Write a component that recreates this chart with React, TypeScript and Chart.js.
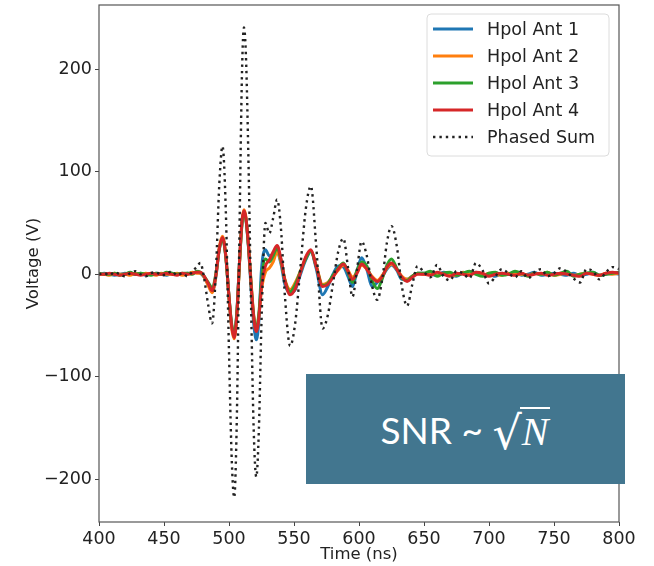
import React, { useEffect, useRef } from "react";
import { Chart, registerables } from "chart.js";
Chart.register(...registerables);

// Sample times (ns)
const timeNs = [
  400, 404, 408, 412, 416, 420, 424, 428, 432, 436, 440, 444, 448, 452, 456, 460, 464, 468, 472, 475, 478,
  481, 484, 487, 490, 492.5, 495, 497.5, 500, 502, 504,
  506, 508, 510, 511.5, 513, 515, 517, 519, 521, 523,
  525, 528, 531, 534, 537, 540, 543, 547, 551, 555,
  559, 563, 567, 572, 576, 580, 584, 588, 591.5, 595,
  598.5, 602, 606, 610, 614, 618, 621.5, 625, 629, 633,
  637, 641, 645,
  650, 655, 660, 665, 670, 675, 680, 685, 690, 695, 700, 705, 710, 715, 720, 725,
  730, 735, 740, 745, 750, 755, 760, 765, 770, 775, 780, 785, 790, 795, 800,
];

const hpolAnt1 = [
  0, 1, 0, -1, 0, 1, 0, 0, 1, -1, 0, 1, 0, -1, 1, 0, 0, 1, 1, 2, 1,
  -3, -10, -17, -2, 24, 35, 18, -22, -50, -60,
  -38, 10, 50, 60, 54, 26, -14, -48, -64, -45,
  5, 24, 18, 20, 22, 10, -10, -18, -15, 0,
  14, 22, 6, -20, -12, 0, 8, 7, -2, -12,
  3, 16, 5, -12, -8, -2, 5, 9, 4, -5,
  -5, -2, 1,
  1, 0, -1, 2, 0, -2, 1, 0, 2, -1, 0, -2, 1, 0, 1, -1,
  0, 2, -1, 0, 1, 0, -1, 1, -1, 0, 2, -1, 0, 1, 0,
];

const hpolAnt2 = [
  0, 0, -1, 1, 0, 0, -1, 1, 0, 1, 0, -1, 1, 0, 0, 1, -1, 0, 2, 1, 1,
  -3, -11, -18, -1, 26, 37, 19, -23, -52, -63,
  -41, 8, 52, 63, 56, 28, -8, -40, -55, -40,
  -15, 2, 6, 12, 22, 12, -5, -15, -8, 3,
  16, 23, 9, -10, -8, -2, 4, 9, 4, -3,
  2, 9, 5, -2, -6, -1, 6, 10, 5, -2,
  -5, -2, 1,
  0, 1, -1, 1, 0, -1, 2, 0, 1, -1, 1, 0, -1, 1, 0, 0,
  -1, 1, 0, 2, -1, 0, 1, -1, 0, 1, 0, -1, 1, 0, 1,
];

const hpolAnt3 = [
  1, 0, 0, 1, -1, 0, 2, 0, 1, 0, -1, 1, 0, 2, 1, 0, 1, 1, 0, 3, 2,
  -2, -8, -13, 1, 24, 35, 17, -22, -48, -58,
  -38, 9, 50, 61, 54, 27, -10, -41, -54, -38,
  -6, 15, 12, 18, 26, 14, -6, -17, -10, 3,
  15, 23, 8, -11, -9, -1, 6, 11, 2, -8,
  4, 12, 8, -6, -14, -4, 9, 15, 6, -4,
  -6, -2, 1,
  1, 3, -2, 1, 2, -1, 1, 3, 0, -2, 1, 2, -1, 0, 3, 1,
  -2, 1, 0, 2, -1, 1, 3, -2, 0, 1, 2, -1, 0, 1, 2,
];

const hpolAnt4 = [
  0, 0, 1, 0, -1, 0, 1, 0, -1, 0, 1, 0, 0, 1, 0, -1, 1, 0, 1, 2, 2,
  -2, -9, -16, 0, 25, 36, 18, -22, -50, -62,
  -40, 10, 52, 62, 55, 28, -10, -42, -56, -42,
  -12, 8, 14, 22, 28, 15, -6, -20, -14, 2,
  17, 24, 8, -12, -10, -3, 5, 10, 3, -5,
  1, 10, 5, -3, -7, -2, 7, 11, 5, -3,
  -7, -3, 0,
  0, -1, 2, 0, -2, 1, 0, -1, 2, 1, -2, 0, 1, 0, -1, 1,
  -1, 0, 1, -1, 0, 1, 0, -1, -2, 1, 0, -1, 1, 2, 1,
];

const phasedSum = [
  0, 1, -1, 2, 0, -2, 1, 3, 0, -2, 1, 2, -1, 0, 3, -1, 1, -2, 3, 7, 11,
  -5, -30, -48, 5, 87, 125, 64, -76, -177, -218,
  -142, 36, 197, 241, 214, 109, -32, -152, -198, -151,
  -46, 50, 40, 55, 73, 44, -21, -70, -47, 8,
  63, 86, 29, -53, -40, -9, 22, 35, 7, -22,
  5, 32, 18, -11, -25, -4, 31, 47, 28, -12,
  -31, -10, 8,
  2, -3, 9, -2, -6, 3, 1, -4, 11, 4, -9, -2, 5, 1, -3, 3,
  -4, 2, 5, -2, 1, 6, 2, -4, -8, 5, 3, -5, 2, 7, 5,
];

const seriesLabels = ["Hpol Ant 1", "Hpol Ant 2", "Hpol Ant 3", "Hpol Ant 4", "Phased Sum"];
const seriesValues = [hpolAnt1, hpolAnt2, hpolAnt3, hpolAnt4, phasedSum];
const seriesColors = ["#1f77b4", "#ff7f0e", "#2ca02c", "#d62728", "#222222"];

const xTicks = [400, 450, 500, 550, 600, 650, 700, 750, 800];
const yTicks = [-200, -100, 0, 100, 200];
const xRange = [400, 800];
const yRange = [-242, 263];

const FONT = "'DejaVu Sans', sans-serif";

const framePlugin = {
  id: "frame",
  afterDatasetsDraw(chart: any) {
    const { ctx, chartArea: a } = chart;
    ctx.save();
    ctx.strokeStyle = "#555";
    ctx.lineWidth = 1.2;
    ctx.strokeRect(a.left, a.top, a.right - a.left, a.bottom - a.top);
    ctx.restore();
  },
};

const legendPlugin = {
  id: "boxLegend",
  afterDraw(chart: any) {
    const { ctx, chartArea: a } = chart;
    const w = 182;
    const h = 142;
    const x0 = a.right - 10 - w;
    const y0 = a.top + 9;
    ctx.save();
    ctx.beginPath();
    const r = 4;
    ctx.moveTo(x0 + r, y0);
    ctx.lineTo(x0 + w - r, y0);
    ctx.quadraticCurveTo(x0 + w, y0, x0 + w, y0 + r);
    ctx.lineTo(x0 + w, y0 + h - r);
    ctx.quadraticCurveTo(x0 + w, y0 + h, x0 + w - r, y0 + h);
    ctx.lineTo(x0 + r, y0 + h);
    ctx.quadraticCurveTo(x0, y0 + h, x0, y0 + h - r);
    ctx.lineTo(x0, y0 + r);
    ctx.quadraticCurveTo(x0, y0, x0 + r, y0);
    ctx.closePath();
    ctx.fillStyle = "rgba(255,255,255,0.85)";
    ctx.fill();
    ctx.strokeStyle = "#dcdcdc";
    ctx.lineWidth = 1;
    ctx.stroke();
    chart.data.datasets.forEach((ds: any, i: number) => {
      const yy = y0 + 15 + i * 27;
      ctx.beginPath();
      ctx.strokeStyle = ds.borderColor;
      ctx.lineWidth = ds.borderWidth;
      ctx.setLineDash(ds.borderDash || []);
      ctx.moveTo(x0 + 6, yy);
      ctx.lineTo(x0 + 46, yy);
      ctx.stroke();
      ctx.setLineDash([]);
      ctx.fillStyle = "#222";
      ctx.font = `17.5px ${FONT}`;
      ctx.textBaseline = "middle";
      ctx.textAlign = "left";
      ctx.fillText(ds.label, x0 + 60, yy + 1);
    });
    ctx.restore();
  },
};

export default function App() {
  const canvasRef = useRef<HTMLCanvasElement | null>(null);

  useEffect(() => {
    if (!canvasRef.current) return;
    const datasets = seriesValues.map((vals, i) => {
      const isSum = i === 4;
      return {
        label: seriesLabels[i],
        data: timeNs.map((t, j) => ({ x: t, y: vals[j] })).filter((p) => p.y !== undefined),
        borderColor: seriesColors[i],
        backgroundColor: seriesColors[i],
        borderWidth: isSum ? 2.4 : 3,
        borderDash: isSum ? [2.4, 4] : undefined,
        borderCapStyle: "butt",
        pointRadius: 0,
        fill: false,
        cubicInterpolationMode: "monotone",
        order: 5 - i,
      };
    });
    const tickFont = { family: FONT, size: 17.5 };
    const chart = new Chart(canvasRef.current, {
      type: "line",
      data: { datasets: datasets as any },
      options: {
        animation: false,
        responsive: false,
        devicePixelRatio: 1,
        layout: { padding: { top: 5, right: 35, left: 0, bottom: 0 } },
        plugins: { legend: { display: false }, tooltip: { enabled: false } },
        scales: {
          x: {
            type: "linear",
            min: xRange[0],
            max: xRange[1],
            afterBuildTicks: (s: any) => {
              s.ticks = xTicks.map((v) => ({ value: v }));
            },
            afterFit: (s: any) => {
              s.height = 44;
              s.paddingLeft = 0;
              s.paddingRight = 0;
            },
            grid: { drawOnChartArea: false, drawTicks: true, tickLength: 4, tickColor: "#444", color: "#444" },
            border: { display: false },
            ticks: { font: tickFont, color: "#222", padding: 3, maxRotation: 0, autoSkip: false },
            title: { display: true, text: "Time (ns)", font: { family: FONT, size: 16.5 }, color: "#222", padding: { top: 1, bottom: 1 } },
          },
          y: {
            type: "linear",
            min: yRange[0],
            max: yRange[1],
            afterBuildTicks: (s: any) => {
              s.ticks = yTicks.map((v) => ({ value: v }));
            },
            afterFit: (s: any) => {
              s.width = 99;
              s.paddingTop = 0;
              s.paddingBottom = 0;
            },
            grid: { drawOnChartArea: false, drawTicks: true, tickLength: 4, tickColor: "#444", color: "#444" },
            border: { display: false },
            ticks: {
              font: tickFont,
              color: "#222",
              padding: 3,
              autoSkip: false,
              callback: (v: any) => (v < 0 ? "\u2212" + Math.abs(v) : String(v)),
            },
            title: { display: true, text: "Voltage (V)", font: { family: FONT, size: 16.5 }, color: "#222", padding: { top: 24, bottom: 24 } },
          },
        },
      },
      plugins: [framePlugin, legendPlugin],
    });
    return () => chart.destroy();
  }, []);

  return (
    <div style={{ position: "absolute", left: 0, top: 0, width: 654, height: 566, background: "#fff" }}>
      <canvas ref={canvasRef} width={654} height={566} style={{ display: "block" }} />
      <div
        style={{
          position: "absolute",
          left: 306,
          top: 374,
          width: 319,
          height: 110,
          background: "#42768f",
          color: "#fff",
          display: "flex",
          alignItems: "center",
          justifyContent: "center",
        }}
      >
        <span style={{ fontFamily: "Lato, 'Open Sans', sans-serif", fontSize: 37, lineHeight: 1, whiteSpace: "pre" }}>SNR ~ </span>
        <span style={{ fontFamily: "'DejaVu Serif', serif", fontSize: 46, lineHeight: 1, position: "relative", top: 4 }}>√</span>
        <span
          style={{
            fontFamily: "'Liberation Serif', serif",
            fontStyle: "italic",
            fontSize: 40,
            lineHeight: 1,
            borderTop: "2px solid #fff",
            paddingTop: 3,
            paddingLeft: 2,
            paddingRight: 2,
            marginLeft: -2,
          }}
        >
          N
        </span>
      </div>
    </div>
  );
}
